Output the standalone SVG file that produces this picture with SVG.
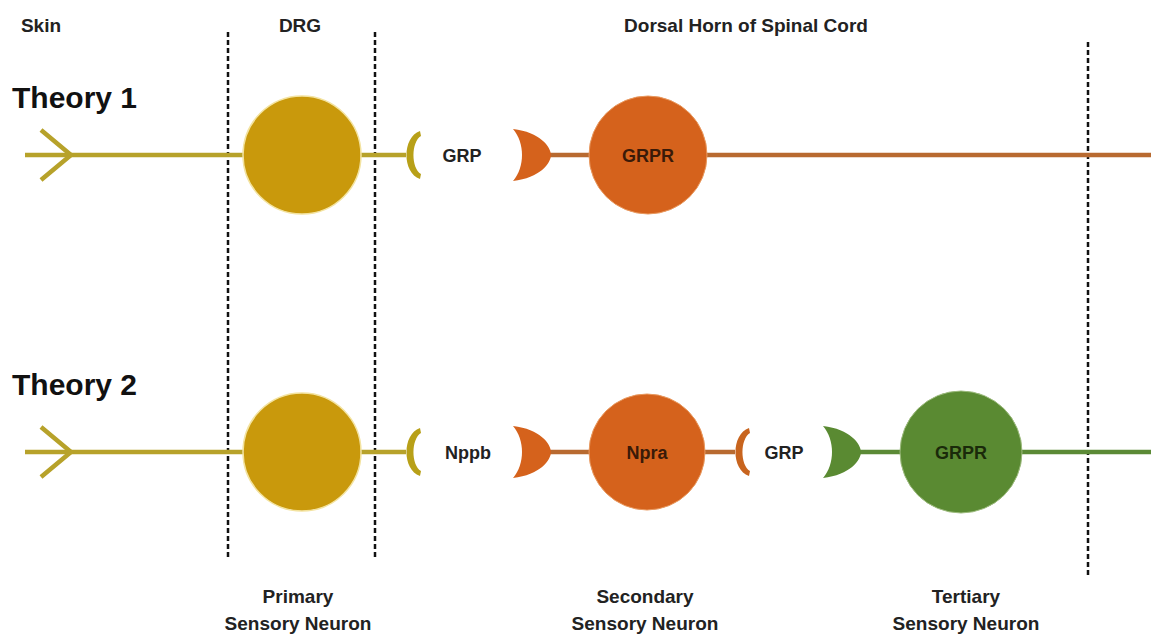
<svg xmlns="http://www.w3.org/2000/svg" width="1151" height="636" viewBox="0 0 1151 636">
<style>
.lbl{font-family:"Liberation Sans",Arial,sans-serif;font-weight:bold;font-size:19px;fill:#222;text-anchor:middle}
.th{font-family:"Liberation Sans",Arial,sans-serif;font-weight:bold;font-size:30px;fill:#111}
.mol{font-family:"Liberation Sans",Arial,sans-serif;font-weight:bold;font-size:18px;fill:#222;text-anchor:middle}
.in{font-family:"Liberation Sans",Arial,sans-serif;font-weight:bold;font-size:18px;fill:#3a1a08;text-anchor:middle}
.dash{stroke:#111;stroke-width:2.5;stroke-dasharray:5 3;fill:none}
.yl{stroke:#b7a22a;stroke-width:4.5;fill:none}
.ol{stroke:#b86a30;stroke-width:4.5;fill:none}
.gl{stroke:#5b8a36;stroke-width:4.5;fill:none}
.yc{fill:#c9990c;stroke:#f3e3a0;stroke-width:1.5}
.oc{fill:#d5621c;stroke:#e99a60;stroke-width:1}
.gc{fill:#5a8a32;stroke:#9dbb7e;stroke-width:1}
</style>
<defs>
<path id="rec" d="M0,-26 C27,-23 38,-8 38,0 C38,8 27,23 0,26 C12,12 12,-12 0,-26 Z"/>
<path id="cup" d="M17,-24 C-1,-18 -1,18 17,24 L18,19 C8,13 8,-13 18,-19 Z"/>
<path id="chev" d="M-30,-25 L0,0 L-30,25"/>
</defs>
<g id="headers">
<text class="lbl" x="41" y="32">Skin</text>
<text class="lbl" x="300" y="32">DRG</text>
<text class="lbl" x="746" y="32">Dorsal Horn of Spinal Cord</text>
</g>
<g id="dividers">
<line class="dash" x1="228" y1="32" x2="228" y2="560"/>
<line class="dash" x1="375" y1="32" x2="375" y2="560"/>
<line class="dash" x1="1088" y1="42" x2="1088" y2="575"/>
</g>
<g id="connectors">
<line class="yl" x1="25" y1="155" x2="406" y2="155"/>
<use href="#chev" x="71" y="155" class="yl"/>
<line class="ol" x1="548" y1="155" x2="1151" y2="155"/>
<line class="yl" x1="25" y1="452" x2="406" y2="452"/>
<use href="#chev" x="71" y="452" class="yl"/>
<line class="ol" x1="548" y1="452" x2="735" y2="452"/>
<line class="gl" x1="858" y1="452" x2="1151" y2="452"/>
</g>
<g id="theory1">
<text class="th" x="12" y="108">Theory 1</text>
<g id="t1-primary"><circle class="yc" cx="302" cy="155" r="59"/></g>
<g id="t1-grp"><use href="#cup" x="403" y="155" fill="#b8a018"/><text class="mol" x="462" y="162">GRP</text></g>
<g id="t1-receptor"><use href="#rec" x="513" y="155" fill="#d5621c"/></g>
<g id="t1-secondary"><circle class="oc" cx="648" cy="155" r="59"/><text class="in" x="648" y="162">GRPR</text></g>
</g>
<g id="theory2">
<text class="th" x="12" y="395">Theory 2</text>
<g id="t2-primary"><circle class="yc" cx="302" cy="452" r="59"/></g>
<g id="t2-nppb"><use href="#cup" x="403" y="452" fill="#b8a018"/><text class="mol" x="468" y="459">Nppb</text></g>
<g id="t2-receptor1"><use href="#rec" x="513" y="452" fill="#d5621c"/></g>
<g id="t2-secondary"><circle class="oc" cx="647" cy="452" r="58"/><text class="in" x="647" y="459">Npra</text></g>
<g id="t2-grp"><use href="#cup" x="732" y="452" fill="#c8641e"/><text class="mol" x="784" y="459">GRP</text></g>
<g id="t2-receptor2"><use href="#rec" x="823" y="452" fill="#5a8a32"/></g>
<g id="t2-tertiary"><circle class="gc" cx="961" cy="452" r="61"/><text class="in" x="961" y="459" style="fill:#1a2a0a">GRPR</text></g>
</g>
<g id="footer">
<text class="lbl" x="298" y="603">Primary</text>
<text class="lbl" x="298" y="630">Sensory Neuron</text>
<text class="lbl" x="645" y="603">Secondary</text>
<text class="lbl" x="645" y="630">Sensory Neuron</text>
<text class="lbl" x="966" y="603">Tertiary</text>
<text class="lbl" x="966" y="630">Sensory Neuron</text>
</g>
</svg>
